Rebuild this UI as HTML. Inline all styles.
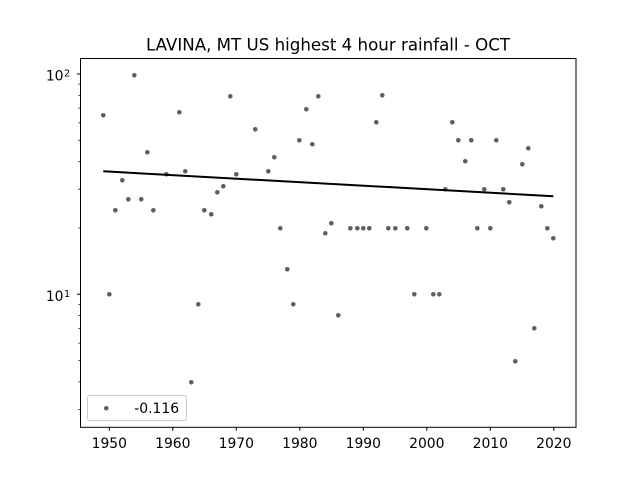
<!DOCTYPE html>
<html><head><meta charset="utf-8"><style>
html,body{margin:0;padding:0;background:#fff;}
svg{display:block;}
text{font-family:"DejaVu Sans","Liberation Sans",sans-serif;fill:#000;}
</style></head><body>
<svg width="640" height="480" viewBox="0 0 640 480" xmlns="http://www.w3.org/2000/svg">
<defs>
<marker id="dot" viewBox="-3 -3 6 6" markerWidth="6" markerHeight="6" markerUnits="userSpaceOnUse" refX="0" refY="0">
<circle r="2.3" fill="#5f5f5f"/>
</marker>
</defs>
<rect width="640" height="480" fill="#fff"/>
<text x="328" y="50.5" font-size="16.67" text-anchor="middle">LAVINA, MT US highest 4 hour rainfall - OCT</text>
<polyline fill="none" stroke="none" marker-start="url(#dot)" marker-mid="url(#dot)" marker-end="url(#dot)"
points="103.3,115.3 109.3,294.3 115.3,210.3 122.3,180.3 128.3,199.3 134.3,75.3 141.3,199.3 147.3,152.3 153.3,210.3 166.3,174.3 179.3,112.3 185.3,171.3 191.3,382.3 198.3,304.3 204.3,210.3 211.3,214.3 217.3,192.3 223.3,186.3 230.3,96.3 236.3,174.3 255.3,129.3 268.3,171.3 274.3,157.3 280.3,228.3 287.3,269.3 293.3,304.3 299.3,140.3 306.3,109.3 312.3,144.3 318.3,96.3 325.3,233.3 331.3,223.3 338.3,315.3 350.3,228.3 357.3,228.3 363.3,228.3 369.3,228.3 376.3,122.3 382.3,95.3 388.3,228.3 395.3,228.3 407.3,228.3 414.3,294.3 426.3,228.3 433.3,294.3 439.3,294.3 445.3,189.3 452.3,122.3 458.3,140.3 465.3,161.3 471.3,140.3 477.3,228.3 484.3,189.3 490.3,228.3 496.3,140.3 503.3,189.3 509.3,202.3 515.3,361.3 522.3,164.3 528.3,148.3 534.3,328.3 541.3,206.3 547.3,228.3 553.3,238.3"/>
<line x1="103.3" y1="171.3" x2="553.3" y2="196.2" stroke="#000" stroke-width="2"/>
<rect x="80.5" y="58.5" width="495.5" height="368.8" fill="none" stroke="#000" stroke-width="1"/>
<path d="M109.3 427.3v3.5M172.8 427.3v3.5M236.3 427.3v3.5M299.8 427.3v3.5M363.3 427.3v3.5M426.8 427.3v3.5M490.3 427.3v3.5M553.8 427.3v3.5M80.5 74h-3.5M80.5 294.3h-3.5" stroke="#000" stroke-width="1" fill="none"/>
<path d="M80.5 228h-2M80.5 189.2h-2M80.5 161.7h-2M80.5 140.3h-2M80.5 122.9h-2M80.5 108.1h-2M80.5 95.4h-2M80.5 84.1h-2M80.5 304.4h-2M80.5 315.6h-2M80.5 328.4h-2M80.5 343.1h-2M80.5 360.6h-2M80.5 381.9h-2M80.5 409.4h-2" stroke="#000" stroke-width="0.8" fill="none"/>
<g font-size="13.9" text-anchor="middle">
<text x="109.3" y="448">1950</text>
<text x="172.8" y="448">1960</text>
<text x="236.3" y="448">1970</text>
<text x="299.8" y="448">1980</text>
<text x="363.3" y="448">1990</text>
<text x="426.8" y="448">2000</text>
<text x="490.3" y="448">2010</text>
<text x="553.8" y="448">2020</text>
</g>
<g font-size="13.9">
<text x="63.5" y="80.7" text-anchor="end">10</text>
<text x="64" y="76.5" font-size="9.7">2</text>
<text x="63.5" y="301.2" text-anchor="end">10</text>
<text x="64" y="297" font-size="9.7">1</text>
</g>
<rect x="87.5" y="395.5" width="99" height="25" rx="2" ry="2" fill="#fff" fill-opacity="0.8" stroke="#cccccc" stroke-width="1"/>
<circle cx="106.3" cy="408.3" r="2.3" fill="#5f5f5f"/>
<text x="134.3" y="413.2" font-size="13.9">-0.116</text>
</svg>
</body></html>
